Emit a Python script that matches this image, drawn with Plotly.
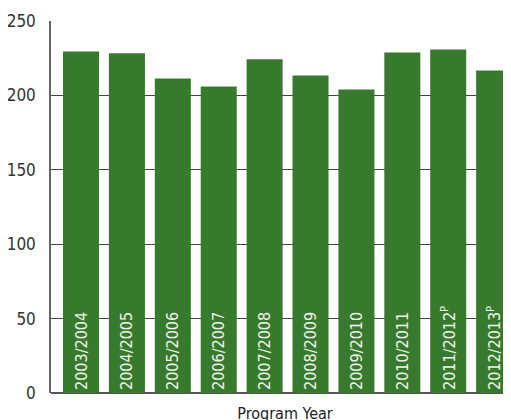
import plotly.graph_objects as go

years = ["2003/2004", "2004/2005", "2005/2006", "2006/2007", "2007/2008",
         "2008/2009", "2009/2010", "2010/2011", "2011/2012", "2012/2013"]
labels = ["2003/2004", "2004/2005", "2005/2006", "2006/2007", "2007/2008",
          "2008/2009", "2009/2010", "2010/2011", "2011/2012<sup>P</sup>", "2012/2013<sup>P</sup>"]
values = [229.5, 228.3, 211.4, 206.0, 224.3, 213.4, 204.0, 228.9, 230.9, 216.8]
y_ticks = [0, 50, 100, 150, 200, 250]

FONT = "DejaVu Sans Condensed, DejaVu Sans, sans-serif"

fig = go.Figure(go.Bar(
    x=years, y=values, text=labels,
    textposition="inside", insidetextanchor="start", textangle=-90,
    textfont=dict(family=FONT, size=16, color="#eef3ec"),
    marker=dict(color="#387a2d", line=dict(width=0)),
    cliponaxis=False, hoverinfo="x+y",
))

fig.update_layout(
    width=511, height=420,
    margin=dict(l=43, r=0, t=13, b=35),
    paper_bgcolor="white", plot_bgcolor="white",
    bargap=0.215, showlegend=False,
    font=dict(family=FONT, size=16, color="#333"),
)
fig.update_xaxes(
    range=[-0.654, 9.542], showticklabels=False, showgrid=False,
    showline=False, zeroline=False, ticks="",
    title=dict(text="Program Year", font=dict(size=16, color="#222"), standoff=14),
)
fig.update_yaxes(
    range=[0, 250], tickvals=y_ticks, showgrid=True, gridcolor="#444", gridwidth=1,
    showline=True, linecolor="#666", linewidth=1.5, mirror=False,
    zeroline=True, zerolinecolor="#555", zerolinewidth=1.5,
    ticks="", ticklabelstandoff=10,
    tickfont=dict(size=17, color="#333"),
)
fig.write_html("out.html")
